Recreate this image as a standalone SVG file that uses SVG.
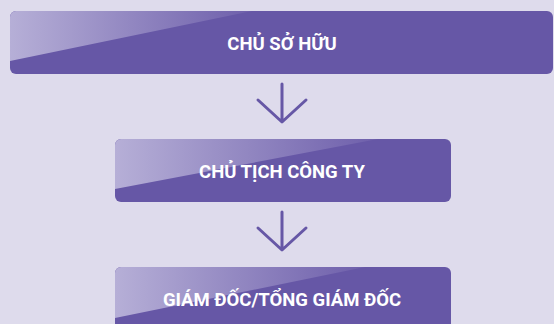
<svg xmlns="http://www.w3.org/2000/svg" width="554" height="324" viewBox="0 0 554 324">
<style>
.box{fill:#6657a6}
.lbl{font-family:Roboto,"Noto Sans","Liberation Sans",sans-serif;font-weight:bold;font-size:18.5px;fill:#ffffff;text-anchor:middle}
.arr{fill:none;stroke:#6657a6;stroke-width:3;stroke-linecap:round;stroke-linejoin:round}
</style>
<defs>
<linearGradient id="g1" x1="0" y1="0" x2="1" y2="0">
<stop offset="0" stop-color="#b6afd7"/>
<stop offset="1" stop-color="#6e5fab"/>
</linearGradient>
<clipPath id="c1"><rect x="10" y="11" width="543" height="63" rx="6"/></clipPath>
<clipPath id="c2"><rect x="115" y="139" width="336" height="63" rx="6"/></clipPath>
<clipPath id="c3"><rect x="115" y="267" width="336" height="70" rx="6"/></clipPath>
</defs>
<rect width="554" height="324" fill="#dedbec"/>
<g id="node1">
<rect class="box" x="10" y="11" width="543" height="63" rx="6"/>
<polygon points="10,11 252,11 10,61" fill="url(#g1)" clip-path="url(#c1)"/>
<text class="lbl" x="282" y="50">CHỦ SỞ HỮU</text>
</g>
<g id="node2">
<rect class="box" x="115" y="139" width="336" height="63" rx="6"/>
<polygon points="115,139 378,139 115,189" fill="url(#g1)" clip-path="url(#c2)"/>
<text class="lbl" x="282" y="178">CHỦ TỊCH CÔNG TY</text>
</g>
<g id="node3">
<rect class="box" x="115" y="267" width="336" height="70" rx="6"/>
<polygon points="115,267 365,267 115,318" fill="url(#g1)" clip-path="url(#c3)"/>
<text class="lbl" x="282" y="306">GIÁM ĐỐC/TỔNG GIÁM ĐỐC</text>
</g>
<g id="connectors">
<path class="arr" d="M282,84 V121 M258,100 L282,122 L306,100"/>
<path class="arr" d="M282,212 V249 M258,228 L282,250 L306,228"/>
</g>
</svg>
